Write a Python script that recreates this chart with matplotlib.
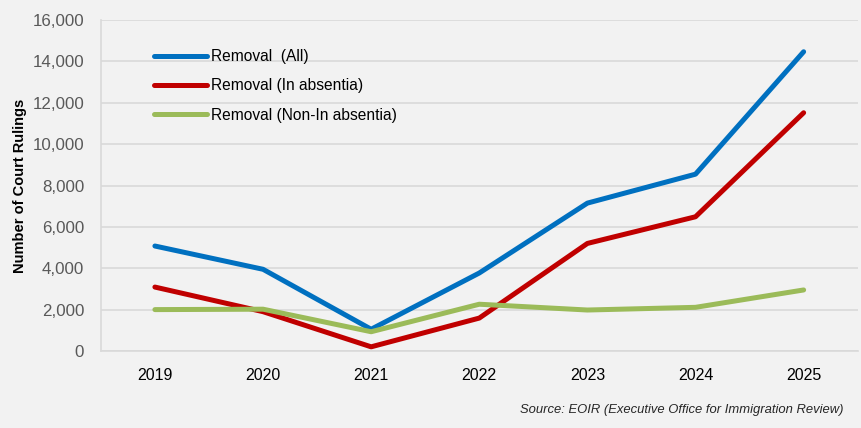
import matplotlib
matplotlib.use("Agg")
import matplotlib.pyplot as plt
from matplotlib.ticker import FuncFormatter

years = ["2019", "2020", "2021", "2022", "2023", "2024", "2025"]
removal_all = [5075, 3950, 1050, 3770, 7150, 8550, 14470]
removal_in_absentia = [3090, 1900, 200, 1590, 5200, 6490, 11520]
removal_non_in_absentia = [2000, 2020, 930, 2260, 1980, 2110, 2950]

plt.rcParams["font.family"] = ["Liberation Sans", "DejaVu Sans"]

bg = "#f2f2f2"
fig = plt.figure(figsize=(8.62, 4.28), dpi=100, facecolor=bg)
ax = fig.add_axes([0.117, 0.180, 0.878, 0.773], facecolor=bg)

x = list(range(len(years)))
lw = 3.6
ax.plot(x, removal_all, color="#0070c0", lw=lw, solid_capstyle="round", solid_joinstyle="round", label="Removal  (All)", zorder=3)
ax.plot(x, removal_in_absentia, color="#c00000", lw=lw, solid_capstyle="round", solid_joinstyle="round", label="Removal (In absentia)", zorder=3)
ax.plot(x, removal_non_in_absentia, color="#9bbb59", lw=lw, solid_capstyle="round", solid_joinstyle="round", label="Removal (Non-In absentia)", zorder=4)

ax.set_xlim(-0.5, len(years) - 0.5)
ax.set_ylim(0, 16000)
ax.set_yticks(range(0, 16001, 2000))
ax.yaxis.set_major_formatter(FuncFormatter(lambda v, p: f"{int(v):,}"))
ax.set_xticks(x)
ax.set_xticklabels(years)

ax.grid(axis="y", color="#d9d9d9", lw=1.2, zorder=0)
ax.set_axisbelow(True)
for s in ["top", "right"]:
    ax.spines[s].set_visible(False)
ax.spines["left"].set_color("#d9d9d9")
ax.spines["bottom"].set_color("#d9d9d9")
ax.spines["left"].set_linewidth(1.2)
ax.spines["bottom"].set_linewidth(1.2)

ax.tick_params(axis="y", length=0, labelsize=12.2, labelcolor="#595959", pad=12)
ax.tick_params(axis="x", length=0, labelsize=11.5, labelcolor="#000000", pad=12)

ax.set_ylabel("Number of Court Rulings", fontsize=10.5, fontweight="bold", labelpad=4)

leg = ax.legend(loc="upper left", bbox_to_anchor=(0.052, 0.955), frameon=False,
                fontsize=11.2, handlelength=3.4, handletextpad=0.25, labelspacing=0.92)

fig.text(0.978, 0.035, "Source: EOIR (Executive Office for Immigration Review)",
         ha="right", va="baseline", fontsize=9.4, style="italic", color="#262626")

fig.savefig("out.png", dpi=100, facecolor=bg)
